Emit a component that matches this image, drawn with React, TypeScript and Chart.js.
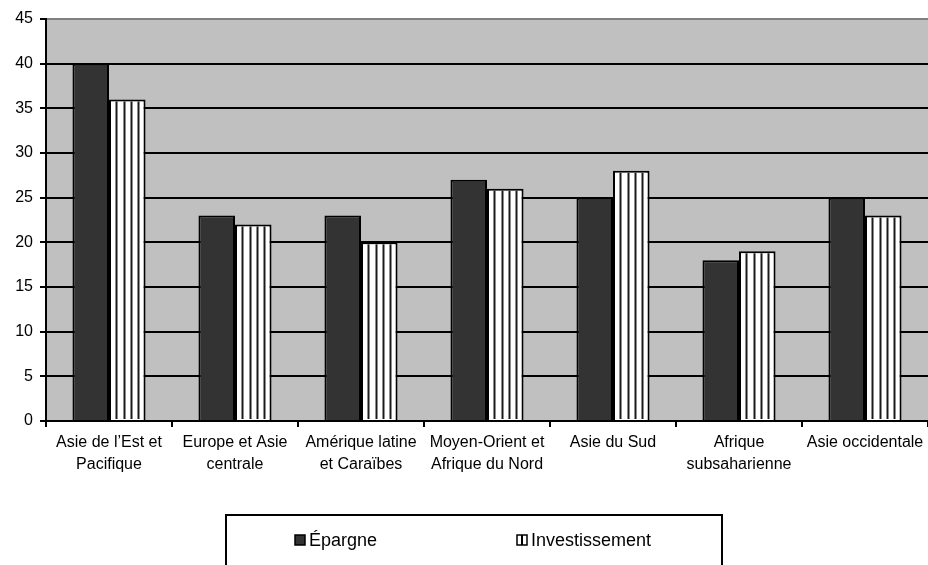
import React, { useEffect, useRef } from "react";
import { Chart, registerables } from "chart.js";

Chart.register(...registerables);

const categories: (string | string[])[] = [
  ["Asie de l’Est et", "Pacifique"],
  ["Europe et Asie", "centrale"],
  ["Amérique latine", "et Caraïbes"],
  ["Moyen-Orient et", "Afrique du Nord"],
  "Asie du Sud",
  ["Afrique", "subsaharienne"],
  "Asie occidentale",
];
const epargne = [40, 23, 23, 27, 25, 18, 25];
const investissement = [36, 22, 20, 26, 28, 19, 23];
const seriesNames = ["Épargne", "Investissement"];
const yMin = 0;
const yMax = 45;
const yStep = 5;

const FONT = "'Liberation Sans', Arial, sans-serif";

const bgPlugin = {
  id: "plotBg",
  beforeDraw(chart: any) {
    const { ctx, chartArea } = chart;
    ctx.save();
    ctx.fillStyle = "#c0c0c0";
    ctx.fillRect(chartArea.left, chartArea.top, chartArea.right - chartArea.left, chartArea.bottom - chartArea.top);
    ctx.restore();
  },
};

const stripePlugin = {
  id: "stripes",
  afterDatasetDraw(chart: any, args: any) {
    if (args.index !== 1) return;
    const { ctx } = chart;
    const meta = chart.getDatasetMeta(1);
    ctx.save();
    ctx.strokeStyle = "#1a1a1a";
    ctx.lineWidth = 2;
    meta.data.forEach((bar: any) => {
      const left = bar.x - bar.width / 2;
      const w = bar.width;
      const top = Math.min(bar.y, bar.base);
      const bottom = Math.max(bar.y, bar.base);
      for (let k = 1; k <= 4; k++) {
        const x = Math.round(left + (w * k) / 5) + 0.5;
        ctx.beginPath();
        ctx.moveTo(x, top + 2);
        ctx.lineTo(x, bottom - 1);
        ctx.stroke();
      }
    });
    ctx.restore();
  },
};

const legendPlugin = {
  id: "boxLegend",
  afterDraw(chart: any) {
    const { ctx } = chart;
    ctx.save();
    ctx.strokeStyle = "#000";
    ctx.lineWidth = 2;
    ctx.strokeRect(226, 515, 496, 80);
    // item 1
    ctx.fillStyle = "#333333";
    ctx.fillRect(295, 535, 10, 10);
    ctx.lineWidth = 1.5;
    ctx.strokeRect(295, 535, 10, 10);
    // item 2
    ctx.fillStyle = "#fff";
    ctx.fillRect(517, 535, 10, 10);
    ctx.strokeRect(517, 535, 10, 10);
    ctx.lineWidth = 2;
    ctx.beginPath();
    ctx.moveTo(522, 535);
    ctx.lineTo(522, 545);
    ctx.stroke();
    ctx.fillStyle = "#000";
    ctx.font = `18px ${FONT}`;
    ctx.textBaseline = "alphabetic";
    ctx.textAlign = "left";
    ctx.fillText(seriesNames[0], 309, 546);
    ctx.fillText(seriesNames[1], 531, 546);
    ctx.restore();
  },
};

export default function App() {
  const ref = useRef<HTMLCanvasElement | null>(null);
  useEffect(() => {
    if (!ref.current) return;
    const chart = new Chart(ref.current, {
      type: "bar",
      data: {
        labels: categories,
        datasets: [
          {
            label: seriesNames[0],
            data: epargne,
            backgroundColor: "#333333",
            borderColor: "#000",
            borderWidth: 2,
          },
          {
            label: seriesNames[1],
            data: investissement,
            backgroundColor: "#ffffff",
            borderColor: "#000",
            borderWidth: 2,
          },
        ],
      },
      options: {
        responsive: false,
        devicePixelRatio: 1,
        animation: false,
        layout: { padding: { top: 19, right: 0, left: 0, bottom: 0 } },
        datasets: { bar: { categoryPercentage: 0.58, barPercentage: 1 } },
        plugins: { legend: { display: false }, tooltip: { enabled: false } },
        scales: {
          x: {
            offset: true,
            grid: {
              offset: true,
              drawOnChartArea: false,
              drawTicks: true,
              tickLength: 6,
              color: "#000",
              lineWidth: 2,
            },
            border: { display: true, color: "#000", width: 2 },
            ticks: {
              autoSkip: false,
              maxRotation: 0,
              minRotation: 0,
              padding: 4,
              color: "#000",
              font: { family: FONT, size: 16, lineHeight: 1.4 },
            },
            afterFit(scale: any) {
              scale.height = 144;
            },
          },
          y: {
            min: yMin,
            max: yMax,
            ticks: {
              stepSize: yStep,
              padding: 7,
              color: "#000",
              font: { family: FONT, size: 16 },
            },
            grid: {
              color: (c: any) => (c.tick && c.tick.value === yMax ? "#808080" : "#000"),
              tickColor: "#000",
              lineWidth: 2,
              tickLength: 6,
            },
            border: { display: true, color: "#000", width: 2 },
            afterFit(scale: any) {
              scale.width = 46;
            },
          },
        },
      },
      plugins: [bgPlugin, stripePlugin, legendPlugin],
    });
    return () => chart.destroy();
  }, []);
  return (
    <div style={{ position: "absolute", left: 0, top: 0, width: 928, height: 565, background: "#fff" }}>
      <canvas ref={ref} width={928} height={565} />
    </div>
  );
}
